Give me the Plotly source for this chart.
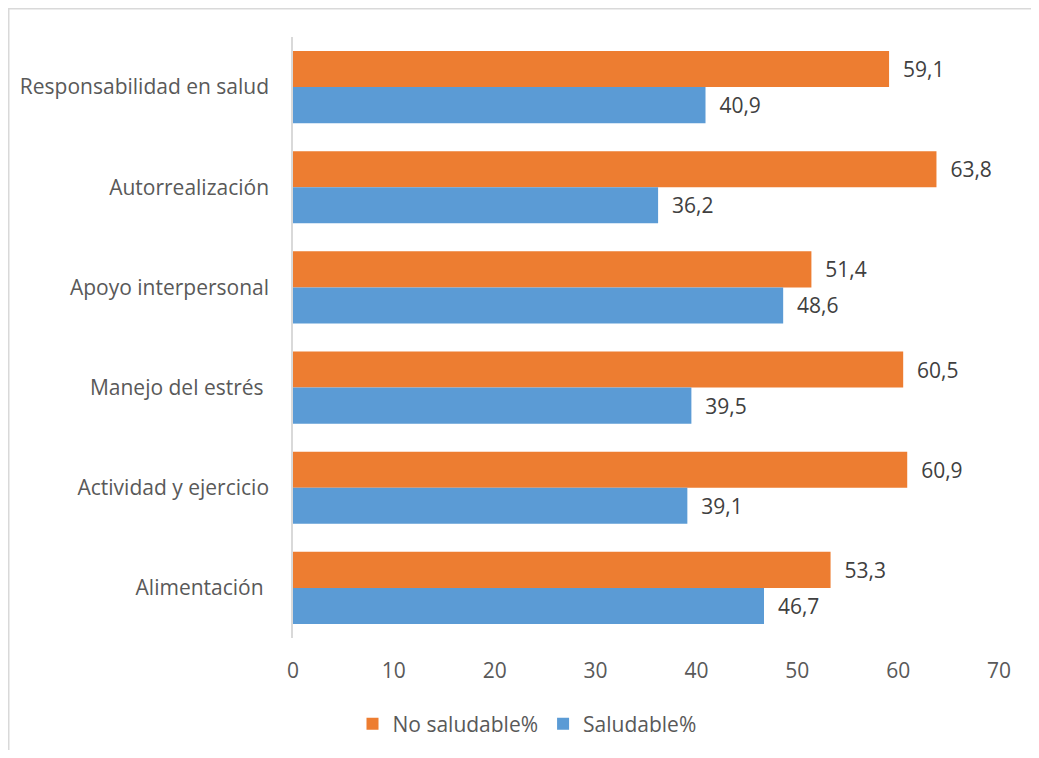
import plotly.graph_objects as go

categories = ["Responsabilidad en salud", "Autorrealización", "Apoyo interpersonal",
              "Manejo del estrés\u00a0", "Actividad y ejercicio", "Alimentación\u00a0"]
no_saludable = [59.1, 63.8, 51.4, 60.5, 60.9, 53.3]
saludable = [40.9, 36.2, 48.6, 39.5, 39.1, 46.7]
x_ticks = [0, 10, 20, 30, 40, 50, 60, 70]

# page body has an 8px margin: figure coords = screen coords - 8
OFF = 8
W, H = 1039 - 2 * OFF, 758 - 2 * OFF
L, T = 293 - OFF, 37 - OFF
pw, ph = 706, 601
R, B = W - L - pw, H - T - ph

font = "'Open Sans', sans-serif"
fs = 21
pad = "\u00a0\u00a0"

fig = go.Figure()
fig.add_trace(go.Bar(y=categories, x=no_saludable, orientation="h", name="No saludable%",
                     marker=dict(color="#ED7D31", line=dict(width=0)),
                     texttemplate=pad + "%{x:.1f}", textposition="outside",
                     textfont=dict(size=fs, color="#404040", family=font), cliponaxis=False))
fig.add_trace(go.Bar(y=categories, x=saludable, orientation="h", name="Saludable%",
                     marker=dict(color="#5B9BD5", line=dict(width=0)),
                     texttemplate=pad + "%{x:.1f}", textposition="outside",
                     textfont=dict(size=fs, color="#404040", family=font), cliponaxis=False))

fig.update_layout(
    width=W, height=H,
    margin=dict(l=L, r=R, t=T, b=B, autoexpand=False),
    paper_bgcolor="white", plot_bgcolor="white",
    barmode="group", bargap=0.28, bargroupgap=0,
    separators=",.",
    font=dict(family=font, size=fs, color="#595959"),
    xaxis=dict(range=[0, 70], tickvals=x_ticks, showgrid=False, zeroline=False,
               showline=False, ticks="", ticklabelstandoff=18, tickangle=0,
               automargin=False, tickfont=dict(size=fs, color="#595959")),
    yaxis=dict(autorange="reversed", showgrid=False, zeroline=False, showline=True,
               linecolor="#D9D9D9", linewidth=1.5, ticks="", ticklabelstandoff=18,
               automargin=False, tickfont=dict(size=fs, color="#595959")),
    legend=dict(orientation="h", x=(527 - 293) / pw, xanchor="center",
                y=(637 - 723) / ph, yanchor="middle",
                font=dict(size=fs, color="#595959"), itemwidth=30),
    showlegend=True,
    shapes=[dict(type="rect", xref="paper", yref="paper",
                 x0=(0.75 - L) / pw, x1=(W + 20 - L) / pw,
                 y0=-(B + 20) / ph, y1=1 + (T - 0.75) / ph,
                 line=dict(color="#D9D9D9", width=1.5), layer="below")],
)

fig.write_html("out.html")
